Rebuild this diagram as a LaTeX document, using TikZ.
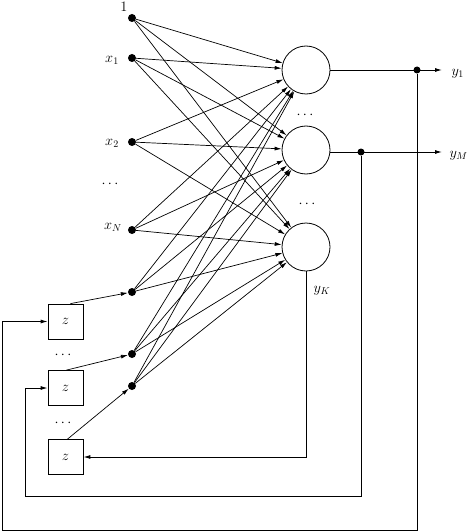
\documentclass[tikz,border=0pt]{standalone}
\usetikzlibrary{arrows.meta,calc}
\begin{document}
\begin{tikzpicture}[x=1pt,y=-1pt,
  every node/.style={font=\fontsize{14}{16}\selectfont},
  dotn/.style={circle,fill=black,inner sep=0pt,minimum size=8pt},
  smalldot/.style={circle,fill=black,inner sep=0pt,minimum size=7pt},
  neuron/.style={circle,draw,line width=0.8pt,minimum size=48pt,inner sep=0pt},
  zbox/.style={draw,line width=0.8pt,minimum width=35pt,minimum height=35pt,inner sep=0pt},
  conn/.style={line width=0.7pt,-{Latex[length=7pt,width=4pt]}},
  fbarrow/.style={line width=0.9pt,-{Latex[length=7pt,width=4pt]}}]
\useasboundingbox (0,0) rectangle (468,532);
% inputs
\node[dotn] (b) at (132,18) {};
\node[dotn] (i1) at (132,58) {};
\node[dotn] (i2) at (132,142) {};
\node[dotn] (iN) at (132,230) {};
\node[dotn] (c1) at (132,292) {};
\node[dotn] (c2) at (132,354) {};
\node[dotn] (c3) at (132,386) {};
\node[inner sep=0pt] (lb) at (124,6.5) {$1$};
\node (l1) at (112,60) {$x_1$};
\node (l2) at (112,143) {$x_2$};
\node (ld) at (110,184) {$\cdots$};
\node (lN) at (113,227) {$x_N$};
% neurons
\node[neuron] (n1) at (306,70) {};
\node[neuron] (n2) at (306,150) {};
\node[neuron] (n3) at (306,247) {};
\node (d1) at (305,115) {$\cdots$};
\node (d2) at (307,204) {$\cdots$};
\node (lK) at (322,291) {$y_K$};
% context boxes
\node[zbox] (z1) at (65.5,321.5) {$z$};
\node[zbox] (z2) at (65.5,388) {$z$};
\node[zbox] (z3) at (65.5,457) {$z$};
\node (d3) at (63,355) {$\cdots$};
\node (d4) at (63,423) {$\cdots$};
% all connections
\foreach \s in {b,i1,i2,iN,c1,c2,c3}
  \foreach \t in {n1,n2,n3}
    \draw[conn] (\s) -- (\t);
% boxes to context dots
\draw[conn] ([xshift=5pt]z1.north) -- (c1);
\draw[conn] ([xshift=1pt]z2.north) -- (c2);
\draw[conn] ([xshift=2pt]z3.north) -- (c3);
% outputs
\coordinate (e1) at (442,70);
\coordinate (e2) at (442,152);
\draw[fbarrow] (n1.east) -- (e1);
\draw[fbarrow] (n2.east |- e2) -- (e2);
\node[smalldot] (o1) at (417,70) {};
\node[smalldot] (o2) at (361,152) {};
\node[anchor=west] (ly1) at (448,74) {$y_1$};
\node[anchor=west] (lyM) at (446,156) {$y_M$};
% feedback
\coordinate (a1) at (417,530);
\coordinate (a2) at (2,530);
\draw[fbarrow] (o1) -- (a1) -- (a2) |- (z1.west);
\coordinate (m1) at (361,496);
\coordinate (m2) at (25,496);
\draw[fbarrow] (o2) -- (m1) -- (m2) |- (z2.west);
\coordinate (k1) at (306,457);
\draw[fbarrow] (n3.south) -- (k1) -- (z3.east);
\end{tikzpicture}
\end{document}
